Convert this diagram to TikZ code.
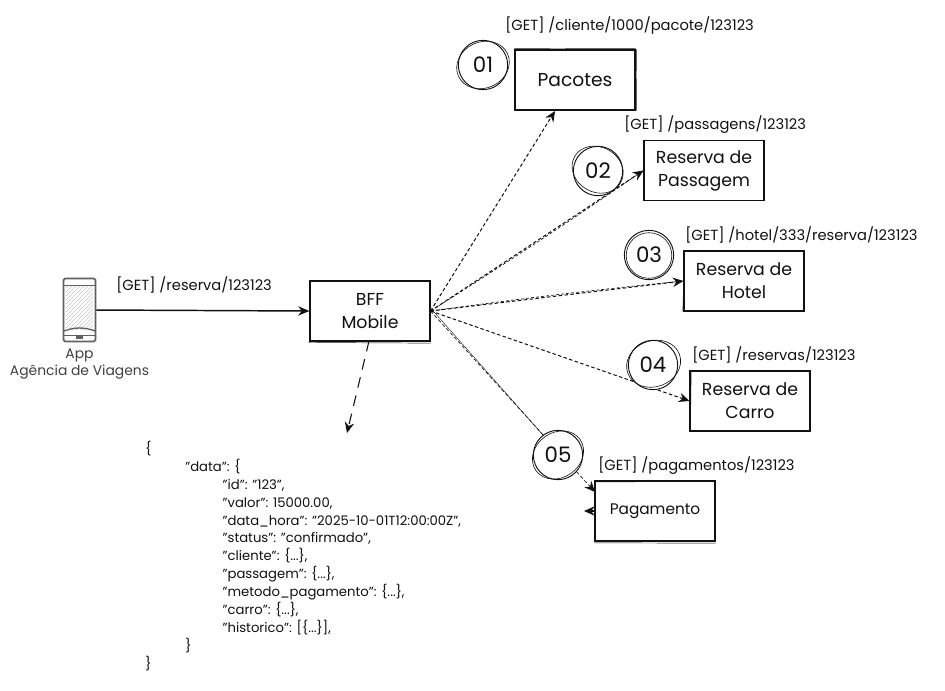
\documentclass[tikz,border=0pt]{standalone}
\usepackage{fontspec}
\setmainfont{Poppins}
\usetikzlibrary{arrows.meta,patterns,backgrounds,calc}
\definecolor{ink}{HTML}{111111}
\tikzset{
  px/.style={x=0.75pt,y=-0.75pt},
  boxnode/.style={draw=ink,line width=0.8pt,fill=white,minimum width=90pt,minimum height=45pt,inner sep=0pt,align=center,font=\fontsize{13}{17.2}\selectfont,text=ink},
  boxtwo/.style={ink,line width=0.35pt},
  ringnode/.style={circle,draw=ink,line width=0.7pt,fill=white,minimum size=37pt,inner sep=0pt,font=\fontsize{16}{18}\selectfont,text=ink},
  ringtwo/.style={ink,line width=0.45pt},
  reqlabel/.style={anchor=west,inner sep=0pt,font=\fontsize{11}{13}\selectfont,text=ink},
  flow/.style={ink,line width=0.75pt,dash pattern=on 2.6pt off 1.8pt,-{Stealth[length=8pt,width=7pt]}},
  flowtwo/.style={ink,line width=0.5pt,dash pattern=on 2.2pt off 1.6pt},
  solidflow/.style={ink,line width=1.1pt,-{Stealth[length=8.5pt,width=7pt]}},
  phoneline/.style={draw=black!62,line width=1.3pt},
}
\begin{document}
\begin{tikzpicture}[px]
\useasboundingbox (0,0) rectangle (945,690);

% nodes
\node[boxnode] (bff) at (370,311) {BFF\\Mobile};
\node[boxnode,font=\fontsize{14}{17}\selectfont] (pac) at (575,80) {Pacotes};
\node[boxnode] (pas) at (704,170.5) {Reserva de\\Passagem};
\node[boxnode] (hot) at (744,281) {Reserva de\\Hotel};
\node[boxnode] (car) at (750,401) {Reserva de\\Carro};
\node[boxnode,font=\fontsize{11.5}{14}\selectfont] (pag) at (655,511) {Pagamento};

% second pen strokes of the boxes
\draw[boxtwo] ([xshift=-0.4pt,yshift=-0.7pt]bff.south west) -- ([yshift=-1.2pt]bff.south east);
\draw[boxtwo] ([yshift=0.8pt]pac.north west) -- ([yshift=0.6pt]pac.north east);
\draw[boxtwo] ([xshift=0.8pt]pac.north east) -- ([xshift=0.6pt]pac.south east);
\draw[boxtwo] ([xshift=0.9pt]hot.north west) -- ([xshift=-0.5pt]hot.south west);
\draw[boxtwo] ([xshift=1.3pt]car.north west) -- ([xshift=0.7pt]car.south west);
\draw[boxtwo] ([xshift=-1pt]car.north east) -- ([xshift=-0.8pt]car.south east);
\draw[boxtwo] ([yshift=-1pt]pag.north west) -- ([yshift=-0.9pt]pag.north east);
\draw[boxtwo] ([yshift=-1pt]pag.south west) -- ([yshift=-1.2pt]pag.south east);

% badges
\node[ringnode] (n1) at (483,65) {01};
\node[ringnode] (n2) at (598,171) {02};
\node[ringnode] (n3) at (649,255) {03};
\node[ringnode] (n4) at (653,365) {04};
\node[ringnode] (n5) at (558,455) {05};
\draw[ringtwo,rotate around={25:(n1.center)}] (n1.center) ellipse [x radius=27,y radius=23];
\draw[ringtwo,rotate around={-30:(n2.center)}] ($(n2.center)+(-1,-1)$) ellipse [x radius=26.5,y radius=22.5];
\draw[ringtwo] ($(n3.center)+(0,0.5)$) ellipse [x radius=22.8,y radius=22.8];
\draw[ringtwo,rotate around={20:(n4.center)}] ($(n4.center)+(1,-1)$) ellipse [x radius=27.5,y radius=23];
\draw[ringtwo,rotate around={35:(n5.center)}] (n5.center) ellipse [x radius=27,y radius=22.5];

% phone
\node[draw=none,minimum width=23.5pt,minimum height=47pt,inner sep=0pt] (app) at (79.5,310) {};
\fill[pattern=north east lines,pattern color=black!22] (66,285) rectangle (93,329);
\draw[phoneline,rounded corners=1.2pt] (app.north west) rectangle (app.south east);
\draw[phoneline] (64,285.5) -- (95,285.5);
\draw[phoneline,line width=1pt] (64,331) .. controls (75,327) and (84,327) .. (95,331);
\draw[phoneline,line width=1pt] (64,335.5) -- (95,335.5);
\fill[black!62] (76,335.5) rectangle (83,338.5);
\node[anchor=north,inner sep=0pt,align=center,text=black!75,font=\fontsize{10.4}{12.8}\selectfont] (applabel) at (79.5,349) {App\\Agência de Viagens};

% texts
\node[reqlabel] (l0) at (116,285) {[GET] /reserva/123123};
\node[reqlabel] (l1) at (505,25) {[GET] /cliente/1000/pacote/123123};
\node[reqlabel] (l2) at (624,125) {[GET] /passagens/123123};
\node[reqlabel] (l3) at (685,235) {[GET] /hotel/333/reserva/123123};
\node[reqlabel] (l4) at (692,355) {[GET] /reservas/123123};
\node[reqlabel] (l5) at (598,466) {[GET] /pagamentos/123123};

% response body
\node[anchor=north west,inner sep=0pt,align=left,text=ink,font=\fontsize{9.9}{13.4}\selectfont] (json) at (145,441) {%
\{\\
\hspace*{30pt}"data": \{\\
\hspace*{58pt}"id": "123",\\
\hspace*{58pt}"valor": 15000.00,\\
\hspace*{58pt}"data\_hora": "2025-10-01T12:00:00Z",\\
\hspace*{58pt}"status": "confirmado",\\
\hspace*{58pt}"cliente": \{...\},\\
\hspace*{58pt}"passagem": \{...\},\\
\hspace*{58pt}"metodo\_pagamento": \{...\},\\
\hspace*{58pt}"carro": \{...\},\\
\hspace*{58pt}"historico": [\{...\}],\\
\hspace*{30pt}\}\\
\}};

% free ends
\coordinate (pacin) at (555,111);
\coordinate (pagin) at (595,492);
\coordinate (pagback) at (584,511);
\coordinate (bffout) at (369,341);
\coordinate (jsonin) at (347,433);

% connectors, behind the badges
\begin{scope}[on background layer]
\draw[solidflow] (app.east) -- (bff.west);
\draw[flow] (bff.east) -- (pacin);
\draw[flow] (bff.east) -- (pas.west);
\draw[flowtwo] (bff.east) to[bend right=1] (pas.west);
\draw[flow] (bff.east) -- (hot.west);
\draw[flowtwo] (bff.east) to[bend left=1] (hot.west);
\draw[flow] (bff.east) -- (car.west);
\draw[flow,line width=0.5pt] (bff.east) -- (pagin);
\draw[ink,line width=0.3pt] ([xshift=1.1pt,yshift=1pt]bff.east) -- ([xshift=1.1pt,yshift=1pt]n5.center);
\draw[solidflow,line width=0.9pt,-{Stealth[length=8pt,width=7pt]}] (pag.west) -- (pagback);
\draw[ink,line width=0.8pt,dash pattern=on 8pt off 6pt,-{Stealth[length=8pt,width=7pt]}] (bffout) -- (jsonin);
\end{scope}
\fill[ink] (bff.east) circle (1.8);
\end{tikzpicture}
\end{document}
